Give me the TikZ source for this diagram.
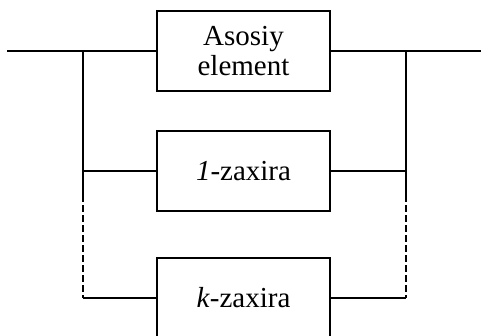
\documentclass[tikz,border=0pt]{standalone}
\usepackage{fontspec}
\setmainfont{Liberation Serif}
\usetikzlibrary{calc}
\tikzset{
  unit/.style={draw,line width=1.1pt,minimum width=3.46cm,minimum height=1.6cm,
    inner sep=0pt,align=center,font=\fontsize{16.5}{17.5}\selectfont},
  wire/.style={line width=1.1pt},
  spare/.style={wire,dash pattern=on 3.8pt off 1.9pt}
}

\begin{document}
\begin{tikzpicture}[x=0.2mm,y=0.2mm]
  % main element on the through line, reserves hung between the two buses
  \useasboundingbox (0,0) rectangle (481,335);
  \clip (0,0) rectangle (481,335);
  \node[unit] (main) at (243.5,284) {Asosiy\\element};
  \node[unit] (spare1) at (243.5,164) {\textit{1}-zaxira};
  \node[unit] (sparek) at (243.5,37) {\textit{k}-zaxira};
  \coordinate (in) at (7,284);
  \coordinate (out) at (481,284);
  \coordinate (lt) at (83,284);
  \coordinate (rt) at (406,284);
  \coordinate (lm) at (83,140);
  \coordinate (rm) at (406,140);
  \coordinate (lb) at (83,37);
  \coordinate (rb) at (406,37);
  \draw[wire] (in) -- (main) -- (out);
  \draw[wire] (lt) |- (spare1);
  \draw[wire] (rt) |- (spare1);
  \draw[wire] (lt) -- (lm);
  \draw[wire] (rt) -- (rm);
  \draw[spare] (lm) -- (lb);
  \draw[spare] (rm) -- (rb);
  \draw[wire] (lb) -- (sparek) -- (rb);
\end{tikzpicture}
\end{document}
